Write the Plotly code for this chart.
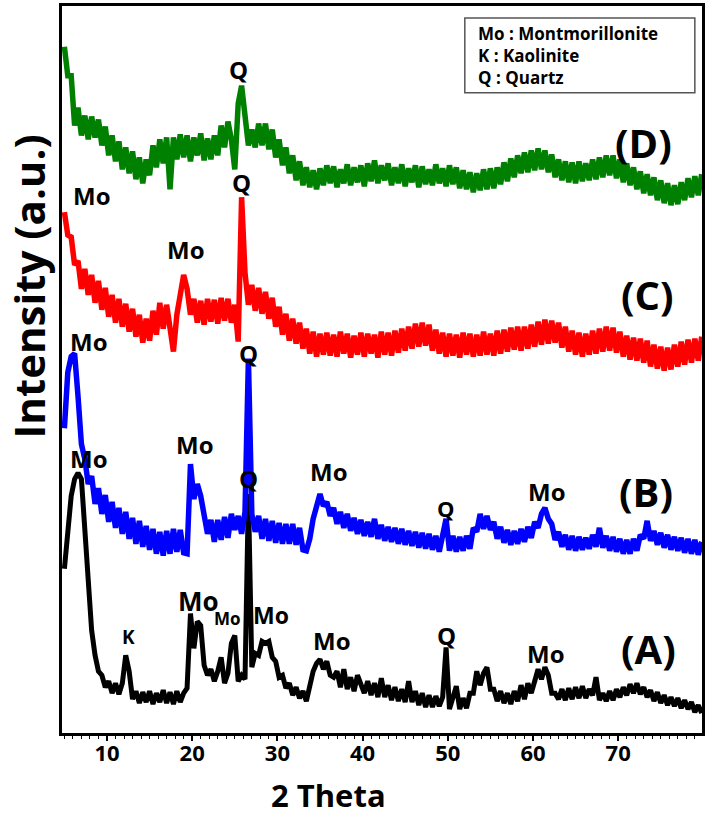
import plotly.graph_objects as go

# XRD scan grid (start angle and step, degrees 2-theta)
start_2theta = 5.0
step_2theta = 0.4

# Stacked intensities (a.u.), one value per step
intensity_A = [
    165, 205, 238, 255, 261, 255, 205, 145, 103, 78,
    62, 58, 46, 52, 40, 50, 39, 50, 78, 62,
    34, 42, 30, 41, 31, 42, 29, 40, 31, 43,
    30, 41, 29, 42, 31, 40, 45, 120, 85, 112,
    108, 68, 58, 64, 52, 62, 76, 50, 60, 90,
    98, 52, 58, 54, 240, 66, 80, 78, 92, 90,
    92, 76, 72, 56, 58, 45, 50, 38, 46, 35,
    42, 32, 48, 62, 70, 74, 64, 72, 58, 56,
    62, 46, 64, 44, 56, 42, 58, 48, 40, 52,
    38, 50, 36, 55, 36, 48, 33, 46, 32, 44,
    31, 52, 31, 42, 28, 40, 26, 38, 26, 37,
    27, 36, 86, 24, 34, 47, 24, 35, 25, 40,
    40, 62, 48, 60, 66, 44, 44, 32, 42, 30,
    40, 29, 42, 32, 48, 34, 50, 40, 52, 64,
    54, 66, 58, 40, 40, 34, 44, 33, 45, 34,
    46, 35, 47, 35, 44, 38, 56, 33, 40, 32,
    42, 33, 44, 36, 46, 38, 49, 40, 50, 39,
    46, 36, 43, 32, 41, 30, 38, 28, 36, 27,
    35, 25, 33, 24, 31, 21, 28, 20,
]

intensity_B = [
    306, 362, 378, 381, 338, 290, 275, 250, 258, 230,
    246, 220, 239, 212, 232, 206, 226, 200, 222, 195,
    216, 190, 213, 187, 208, 184, 205, 180, 202, 178,
    203, 180, 205, 182, 204, 181, 180, 270, 235, 250,
    238, 218, 200, 214, 192, 214, 194, 217, 196, 220,
    204, 218, 200, 222, 376, 220, 202, 218, 195, 215,
    193, 213, 191, 211, 190, 210, 190, 210, 189, 206,
    184, 183, 195, 215, 230, 240, 228, 232, 218, 226,
    210, 222, 206, 220, 203, 216, 200, 214, 198, 212,
    197, 215, 195, 209, 193, 207, 192, 206, 190, 205,
    189, 203, 188, 202, 186, 201, 185, 200, 184, 198,
    182, 197, 215, 183, 198, 182, 197, 183, 198, 185,
    206, 202, 220, 205, 218, 204, 212, 195, 207, 191,
    204, 189, 203, 190, 205, 192, 207, 196, 212, 206,
    220, 226, 215, 210, 194, 202, 187, 199, 184, 198,
    183, 197, 184, 196, 185, 199, 187, 206, 186, 198,
    183, 197, 182, 195, 180, 194, 180, 195, 183, 199,
    195, 213, 193, 203, 189, 201, 186, 199, 184, 197,
    183, 196, 181, 195, 180, 194, 179, 192,
]

intensity_C = [
    523, 500, 498, 470, 474, 446, 466, 440, 460, 432,
    454, 425, 447, 418, 440, 412, 436, 408, 431, 403,
    426, 398, 420, 392, 416, 394, 424, 400, 432, 406,
    430, 404, 383, 420, 445, 460, 446, 420, 436, 412,
    434, 410, 436, 413, 435, 411, 437, 414, 436, 412,
    430, 393, 538, 462, 430, 450, 424, 447, 421, 443,
    416, 437, 408, 428, 400, 421, 394, 416, 391, 412,
    386, 406, 381, 403, 378, 401, 380, 402, 379, 400,
    378, 403, 381, 401, 377, 399, 380, 402, 378, 401,
    381, 400, 377, 403, 380, 402, 379, 404, 382, 406,
    384, 408, 386, 411, 388, 412, 389, 410, 384, 405,
    381, 402, 378, 401, 379, 400, 377, 402, 380, 401,
    378, 400, 379, 403, 380, 401, 379, 404, 381, 405,
    383, 407, 385, 408, 384, 408, 386, 410, 388, 413,
    390, 415, 391, 414, 392, 412, 387, 408, 383, 404,
    380, 402, 378, 401, 380, 404, 381, 406, 383, 408,
    384, 407, 382, 403, 378, 399, 375, 397, 374, 396,
    372, 394, 368, 390, 366, 388, 364, 387, 365, 390,
    368, 393, 370, 395, 372, 396, 374, 398,
]

intensity_D = [
    689, 660, 660, 610, 628, 600, 620, 596, 619, 598,
    616, 590, 609, 580, 600, 574, 594, 566, 588, 562,
    584, 556, 578, 552, 576, 560, 590, 568, 596, 572,
    598, 546, 598, 576, 601, 578, 600, 574, 598, 580,
    602, 575, 597, 576, 600, 580, 610, 588, 614, 596,
    566, 632, 650, 618, 590, 606, 588, 612, 590, 612,
    586, 606, 578, 596, 570, 588, 562, 580, 555, 574,
    550, 568, 548, 565, 546, 567, 550, 570, 552, 569,
    548, 566, 552, 571, 550, 568, 553, 570, 549, 572,
    554, 575, 552, 570, 555, 572, 550, 568, 552, 571,
    549, 567, 553, 570, 548, 569, 551, 566, 550, 571,
    552, 567, 549, 570, 551, 568, 547, 565, 546, 563,
    543, 562, 545, 566, 546, 567, 547, 568, 551, 573,
    554, 577, 558, 580, 562, 583, 563, 585, 565, 587,
    566, 585, 563, 581, 558, 576, 555, 574, 553, 573,
    552, 574, 554, 572, 555, 576, 556, 578, 558, 580,
    560, 580, 557, 576, 553, 572, 550, 568, 546, 564,
    542, 561, 540, 558, 535, 555, 532, 552, 530, 550,
    531, 553, 535, 557, 538, 559, 540, 561,
]

sample_names = ["(A)", "(B)", "(C)", "(D)"]
x_tick_values = [10, 20, 30, 40, 50, 60, 70]
legend_lines = ["Mo : Montmorillonite", "K : Kaolinite", "Q : Quartz"]

# ---------------------------------------------------------------------------
FONT = "Open Sans"
series = [intensity_A, intensity_B, intensity_C, intensity_D]
colors = ["#000000", "#0000FF", "#FF0000", "#008000"]
widths = [5, 5.5, 5.5, 5.5]


def grid(n):
    return [round(start_2theta + step_2theta * i, 1) for i in range(n)]


fig = go.Figure()
for name, vals, col, w in zip(sample_names, series, colors, widths):
    fig.add_trace(go.Scatter(x=grid(len(vals)), y=vals, mode="lines", name=name,
                             line=dict(color=col, width=w), showlegend=False))

# peak labels: (text, 2theta, intensity, font size)
peak_labels = [
    ("Q", 25.4, 666, 24),
    ("Mo", 8.2, 540, 24), ("Q", 25.8, 553, 24), ("Mo", 19.3, 486, 24),
    ("Mo", 7.9, 393, 24), ("Mo", 20.3, 290, 24), ("Q", 26.6, 381, 24),
    ("Mo", 36.1, 263, 24), ("Q", 49.8, 226, 22), ("Mo", 61.6, 243, 24),
    ("Mo", 7.9, 276, 24), ("Q", 26.6, 256, 24), ("K", 12.5, 96, 19),
    ("Mo", 20.7, 133, 26), ("Mo", 24.2, 115, 17), ("Mo", 29.2, 118, 23),
    ("Mo", 36.4, 93, 24), ("Q", 49.9, 98, 24), ("Mo", 61.5, 80, 24),
]
annotations = []
for t, x, y, s in peak_labels:
    annotations.append(dict(text=f"<b>{t}</b>", x=x, y=y, xref="x", yref="y",
                            xanchor="center", yanchor="middle", showarrow=False,
                            font=dict(family=FONT, size=s, color="black")))

sample_pos = [(73.6, 85), (73.3, 243), (73.5, 440), (73.0, 593)]
for name, (x, y) in zip(sample_names, sample_pos):
    annotations.append(dict(text=f"<b>{name}</b>", x=x, y=y, xref="x", yref="y",
                            xanchor="center", yanchor="middle", showarrow=False,
                            font=dict(family=FONT, size=40, color="black")))

annotations.append(dict(text="<br>".join(f"<b>{l}</b>" for l in legend_lines),
                        x=53.3, y=680, xref="x", yref="y", xanchor="left", yanchor="middle",
                        align="left", showarrow=False,
                        font=dict(family=FONT, size=17, color="black")))

annotations.append(dict(text="<b>2 Theta</b>", x=0.416, y=-0.0849, xref="paper", yref="paper",
                        xanchor="center", yanchor="middle", showarrow=False,
                        font=dict(family=FONT, size=31, color="black")))
annotations.append(dict(text="<b>Intensity (a.u.)</b>", x=-0.0516, y=0.614,
                        xref="paper", yref="paper", xanchor="center", yanchor="middle",
                        textangle=-90, showarrow=False,
                        font=dict(family=FONT, size=42, color="black")))

fig.update_layout(
    width=708, height=816,
    margin=dict(l=62, r=6, t=3, b=83),
    paper_bgcolor="white", plot_bgcolor="white",
    annotations=annotations,
    shapes=[dict(type="rect", xref="x", yref="y", x0=52.0, x1=79.0, y0=643, y1=718,
                 line=dict(color="#555555", width=1.5), fillcolor="rgba(0,0,0,0)")],
)
fig.update_xaxes(range=[4.72, 79.84], tickvals=x_tick_values,
                 ticktext=[f"<b>{v}</b>" for v in x_tick_values],
                 ticks="outside", ticklen=5, tickwidth=2, tickcolor="black",
                 ticklabelstandoff=-6,
                 minor=dict(dtick=1, ticks="outside", ticklen=3, tickwidth=1, tickcolor="black"),
                 showline=True, linecolor="black", linewidth=3, mirror=True,
                 showgrid=False, zeroline=False,
                 tickfont=dict(family=FONT, size=22, color="black"))
fig.update_yaxes(range=[0, 730], showticklabels=False, ticks="",
                 showline=True, linecolor="black", linewidth=3, mirror=True,
                 showgrid=False, zeroline=False)

fig.write_html("out.html", config={"displayModeBar": False},
               post_script="document.body.style.margin='0px';")
